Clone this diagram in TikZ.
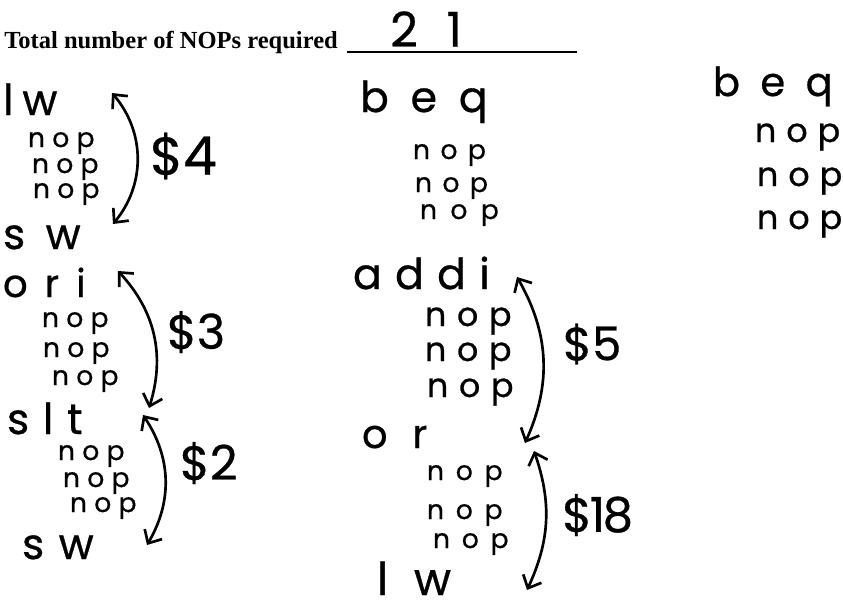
\documentclass[tikz,border=0pt]{standalone}
\usepackage{fontspec}
\usetikzlibrary{arrows.meta}
\newfontfamily\hand[FakeBold=0.6]{Poppins}
\newfontfamily\hdr{Liberation Serif}
\newcommand\hwf[2]{\fontsize{#1}{#1}\hand\addfontfeature{LetterSpace=#2}}
\tikzset{
  hn/.style 2 args={inner sep=0pt, outer sep=0pt, anchor=base west, font=\hwf{#1}{#2}},
  lab/.style={inner sep=0pt, outer sep=0pt, anchor=west, font=\hwf{#1}{0}},
  harr/.style={line width=2pt, line cap=round, >={Straight Barb[length=8pt,width=15pt]}, <->}
}
\begin{document}
\begin{tikzpicture}[x=0.75pt,y=-0.75pt]
\fill[white] (0,0) rectangle (843,611);
\useasboundingbox (0,0) rectangle (843,611);
% header
\node[anchor=base west, inner sep=0pt, font={\fontsize{18.4}{20}\hdr\bfseries}] (title) at (4,48) {Total number of NOPs required};
\coordinate (ulA) at (347,52);
\coordinate (ulB) at (577,52);
\draw[line width=1.2pt] (ulA) -- (ulB);
\node[inner sep=0pt, anchor=west, font=\hwf{36}{60}] (total) at (390,29) {21};
% column 1
\node[hn={32}{21}] (lwA) at (3,115) {lw};
\node[hn={20}{27}] (nA1) at (28,147) {nop};
\node[hn={20}{27}] (nA2) at (32,173) {nop};
\node[hn={20}{27}] (nA3) at (33,198) {nop};
\node[hn={32}{48}] (swA) at (3,249) {sw};
\node[hn={29}{44}] (ori) at (3,297) {ori};
\node[hn={20}{27}] (nB1) at (42,327) {nop};
\node[hn={20}{27}] (nB2) at (43,357) {nop};
\node[hn={20}{27}] (nB3) at (52,385) {nop};
\node[hn={32}{32}] (slt) at (7,434) {slt};
\node[hn={20}{27}] (nC1) at (58,460) {nop};
\node[hn={20}{27}] (nC2) at (63,487) {nop};
\node[hn={20}{27}] (nC3) at (70,512) {nop};
\node[hn={32}{34}] (swB) at (22,559) {sw};
% column 1 arrows
\coordinate (a1s) at (112,93);
\coordinate (a1e) at (113,224);
\draw[harr] (a1s) to[bend left=40] (a1e);
\node[lab=40] (d4) at (150,156) {\$4};
\coordinate (a2s) at (118,271);
\coordinate (a2e) at (149,408);
\draw[harr] (a2s) to[bend left=30] (a2e);
\node[lab=36] (d3) at (167,332) {\$3};
\coordinate (a3s) at (143,415);
\coordinate (a3e) at (147,545);
\draw[harr] (a3s) to[bend left=32] (a3e);
\node[lab=36] (d2) at (180,463) {\$2};
% column 2
\node[hn={32}{51}] (beqA) at (360,112) {beq};
\node[hn={20}{39}] (nD1) at (413,159) {nop};
\node[hn={20}{39}] (nD2) at (415,192) {nop};
\node[hn={20}{50}] (nD3) at (420,219) {nop};
\node[hn={32}{31}] (addi) at (353,289) {addi};
\node[hn={25}{32}] (nE1) at (425,326) {nop};
\node[hn={25}{32}] (nE2) at (425,361) {nop};
\node[hn={25}{32}] (nE3) at (427,397) {nop};
\node[hn={30}{62}] (or) at (362,448) {or};
\node[hn={20}{44}] (nF1) at (427,480) {nop};
\node[hn={20}{44}] (nF2) at (427,519) {nop};
\node[hn={20}{44}] (nF3) at (433,548) {nop};
\node[hn={34}{57}] (lwB) at (377,595) {lw};
% column 2 arrows
\coordinate (a4s) at (517,277);
\coordinate (a4e) at (525,443);
\draw[harr] (a4s) to[bend left=27] (a4e);
\node[lab=35] (d5) at (563,344) {\$5};
\coordinate (a5s) at (534,451);
\coordinate (a5e) at (527,590);
\draw[harr] (a5s) to[bend left=22] (a5e);
\node[inner sep=0pt, anchor=west, font=\hwf{36}{-5}] (d18) at (562,515) {\$18};
% column 3
\node[hn={30}{51}] (beqB) at (713,96) {beq};
\node[hn={25}{30}] (nG1) at (755,142) {nop};
\node[hn={25}{30}] (nG2) at (757,186) {nop};
\node[hn={25}{30}] (nG3) at (757,229) {nop};
\end{tikzpicture}
\end{document}
